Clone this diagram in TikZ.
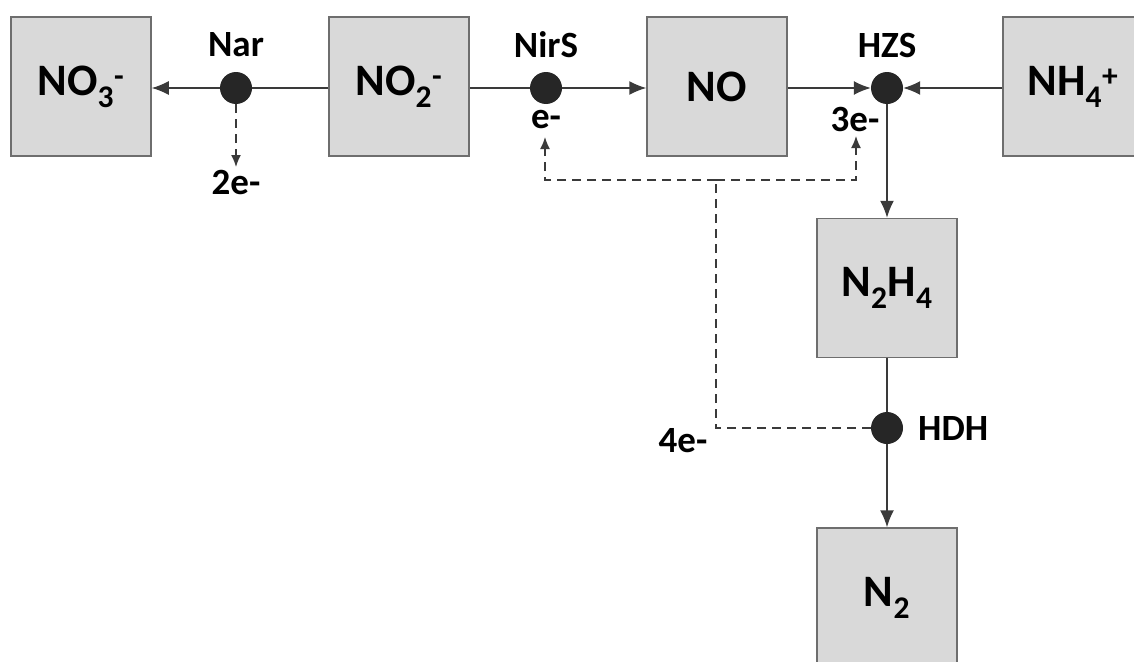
\documentclass[tikz,border=0pt]{standalone}
\usepackage{fontspec}
\setmainfont{Carlito}
\usetikzlibrary{arrows.meta}
\definecolor{boxfill}{HTML}{D9D9D9}
\definecolor{boxline}{HTML}{6E6E6E}
\definecolor{dotfill}{HTML}{262626}
\definecolor{linecol}{HTML}{3A3A3A}
\tikzset{
  species/.style={draw=boxline, line width=1.5pt, fill=boxfill, minimum width=140pt, minimum height=139pt, inner sep=0pt, font=\fontsize{45}{50}\selectfont\bfseries},
  enzyme/.style={circle, fill=dotfill, minimum size=32pt, inner sep=0pt},
  lab/.style={font=\fontsize{37}{42}\selectfont\bfseries, inner sep=0pt},
  flow/.style={draw=linecol, line width=1.5pt},
  flowarr/.style={flow, -{Latex[length=17pt,width=14pt]}},
  efl/.style={draw=linecol, line width=1.5pt, dash pattern=on 9pt off 6pt},
  eflarr/.style={efl, -{Latex[length=12pt,width=10pt]}}
}
\begin{document}
\begin{tikzpicture}[x=1pt,y=-1pt]
\useasboundingbox (0,0) rectangle (1134,661);
\clip (0,0) rectangle (1134,661);
% boxes
\node[species] (no3) at (81,86.5) {NO\textsubscript{3}\textsuperscript{-}};
\node[species] (no2) at (399,86.5) {NO\textsubscript{2}\textsuperscript{-}};
\node[species] (no) at (717,86.5) {NO};
\node[species] (nh4) at (1073,86.5) {NH\textsubscript{4}\textsuperscript{+}};
\node[species] (n2h4) at (887,288) {N\textsubscript{2}H\textsubscript{4}};
\node[species] (n2) at (887,597.5) {N\textsubscript{2}};
% enzymes
\node[enzyme] (nar) at (236,88) {};
\node[enzyme] (nirs) at (546,88) {};
\node[enzyme] (hzs) at (887,88) {};
\node[enzyme] (hdh) at (887,428) {};
% labels
\node[lab] (narl) at (236,45) {Nar};
\node[lab] (nirsl) at (546,45) {NirS};
\node[lab] (hzsl) at (887,45) {HZS};
\node[lab, anchor=west] (hdhl) at (918,428) {HDH};
\node[lab] (e2) at (236,183) {2e-};
\node[lab] (e1) at (546,120) {e-};
\node[lab] (e3) at (855,120) {3e-};
\node[lab] (e4) at (683,441) {4e-};
% coordinates for electron flow
\coordinate (c2) at (236,167);
\coordinate (c1) at (545,137);
\coordinate (c3) at (856,136);
\coordinate (j) at (716,180);
\coordinate (jl) at (716,428);
% main flow
\draw[flow] (no2.west |- nar) -- (nar);
\draw[flowarr] (nar) -- (no3.east |- nar);
\draw[flow] (no2.east |- nirs) -- (nirs);
\draw[flowarr] (nirs) -- (no.west |- nirs);
\draw[flowarr] (no.east |- hzs) -- (hzs.west);
\draw[flowarr] (nh4.west |- hzs) -- (hzs.east);
\draw[flowarr] (hzs) -- (n2h4.north);
\draw[flow] (n2h4.south) -- (hdh);
\draw[flowarr] (hdh) -- (n2.north);
% electron flow
\draw[eflarr] (nar.south) -- (c2);
\draw[efl] (hdh.west) -- (jl) -- (j);
\draw[eflarr] (j) -- (c1 |- j) -- (c1);
\draw[eflarr] (j) -- (c3 |- j) -- (c3);
\end{tikzpicture}
\end{document}
